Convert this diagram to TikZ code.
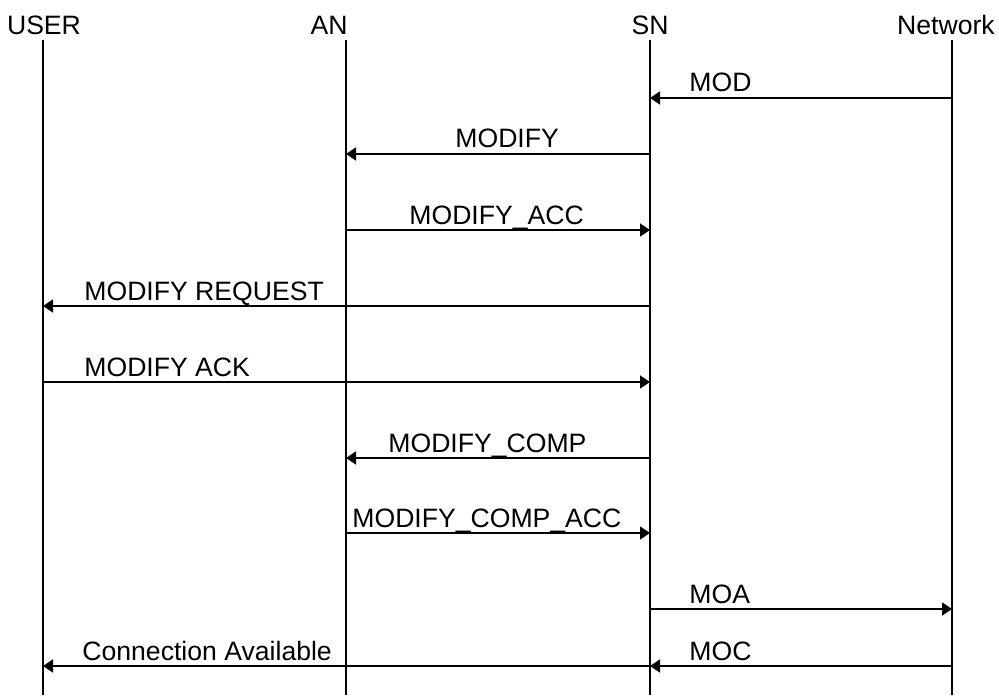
\documentclass[tikz,border=0pt]{standalone}
\usepackage{fontspec}
\setmainfont{Liberation Sans}
\usetikzlibrary{arrows.meta, positioning}

\begin{document}
\begin{tikzpicture}[
  x=0.5pt, y=-0.5pt,
  head/.style={anchor=base, inner sep=0pt, font=\fontsize{13.3}{15}\selectfont},
  lab/.style={anchor=base west, inner sep=0pt, font=\fontsize{13.3}{15}\selectfont},
  life/.style={line width=1.1pt},
  arrow/.style={-{Triangle[length=5pt, width=6.5pt]}, line width=0.8pt}
]
\useasboundingbox (0,0) rectangle (999,695);

\node[head] (user) at (44,35) {USER};
\node[head] (an) at (329,35) {AN};
\node[head] (sn) at (650,35) {SN};
\node[head] (net) at (946,35) {Network};

\coordinate (userTop) at (43,40);
\coordinate (anTop) at (346,40);
\coordinate (snTop) at (650,40);
\coordinate (netTop) at (952,40);
\coordinate (bottom) at (0,695);

\draw[life] (userTop) -- (userTop |- bottom);
\draw[life] (anTop) -- (anTop |- bottom);
\draw[life] (snTop) -- (snTop |- bottom);
\draw[life] (netTop) -- (netTop |- bottom);

\coordinate (mod) at (0,98);
\coordinate (modify) at (0,154);
\coordinate (modifyAcc) at (0,230);
\coordinate (modifyReq) at (0,306);
\coordinate (modifyAck) at (0,382);
\coordinate (modifyComp) at (0,458);
\coordinate (modifyCompAcc) at (0,533);
\coordinate (moa) at (0,609);
\coordinate (moc) at (0,666);

\draw[arrow] (netTop |- mod) -- (snTop |- mod);
\draw[arrow] (snTop |- modify) -- (anTop |- modify);
\draw[arrow] (anTop |- modifyAcc) -- (snTop |- modifyAcc);
\draw[arrow] (snTop |- modifyReq) -- (userTop |- modifyReq);
\draw[arrow] (userTop |- modifyAck) -- (snTop |- modifyAck);
\draw[arrow] (snTop |- modifyComp) -- (anTop |- modifyComp);
\draw[arrow] (anTop |- modifyCompAcc) -- (snTop |- modifyCompAcc);
\draw[arrow] (snTop |- moa) -- (netTop |- moa);
\draw[arrow] (netTop |- moc) -- (snTop |- moc);
\draw[arrow] (snTop |- moc) -- (userTop |- moc);

\node[lab] (modL) at (689,92) {MOD};
\node[lab] (modifyL) at (455,148) {MODIFY};
\node[lab] (modifyAccL) at (409,224) {MODIFY\_ACC};
\node[lab] (modifyReqL) at (84,300) {MODIFY REQUEST};
\node[lab] (modifyAckL) at (84,376) {MODIFY ACK};
\node[lab] (modifyCompL) at (388,452) {MODIFY\_COMP};
\node[lab] (modifyCompAccL) at (352,527) {MODIFY\_COMP\_ACC};
\node[lab] (moaL) at (689,603) {MOA};
\node[lab] (mocL) at (689,660) {MOC};
\node[lab] (connL) at (82,660) {Connection Available};
\end{tikzpicture}
\end{document}
